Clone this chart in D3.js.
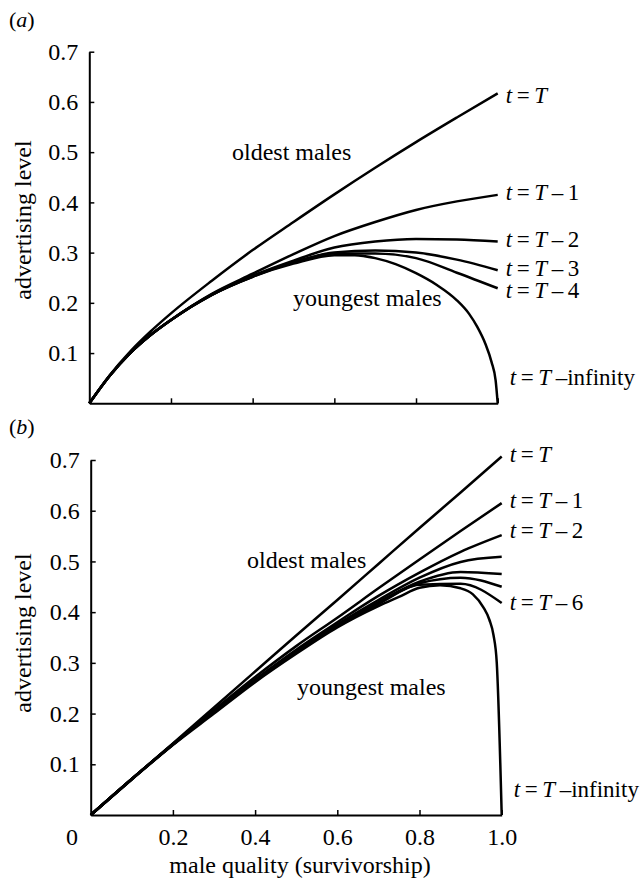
<!DOCTYPE html>
<html>
<head>
<meta charset="utf-8">
<script src="https://cdn.jsdelivr.net/npm/d3@7"></script>
<style>
    html, body { margin: 0; padding: 0; background: #fff; }
    svg text { font-family: "Liberation Serif", "Times New Roman", Times, serif; fill: #000; }
</style>
</head>
<body>
<svg id="chart" width="643" height="882" font-family="Liberation Serif, Times New Roman, serif"></svg>
<script>
// ---- panel (a): advertising level vs male quality ----
const qualityA = [0, 0.05, 0.1, 0.15, 0.2, 0.3, 0.4, 0.5, 0.6, 0.7, 0.8, 0.9, 1.0];
const advA_T  = [0, 0.056, 0.103, 0.143, 0.179, 0.244, 0.305, 0.361, 0.416, 0.469, 0.520, 0.569, 0.617];
const advA_T1 = [0, 0.055, 0.100, 0.136, 0.166, 0.218, 0.258, 0.297, 0.333, 0.361, 0.385, 0.402, 0.415];
const advA_T2 = [0, 0.055, 0.100, 0.136, 0.166, 0.217, 0.254, 0.284, 0.310, 0.322, 0.327, 0.326, 0.322];
const advA_T3 = [0, 0.055, 0.100, 0.136, 0.166, 0.216, 0.253, 0.281, 0.300, 0.304, 0.300, 0.286, 0.265];
const advA_T4 = [0, 0.055, 0.100, 0.136, 0.166, 0.216, 0.252, 0.280, 0.298, 0.298, 0.289, 0.260, 0.229];
const qualityA_inf = [0, 0.05, 0.1, 0.15, 0.2, 0.3, 0.4, 0.5, 0.6, 0.65, 0.7, 0.75, 0.8, 0.85, 0.9, 0.93, 0.95, 0.97, 0.985, 0.995, 1.0];
const advA_Tinf    = [0, 0.055, 0.100, 0.136, 0.166, 0.216, 0.252, 0.278, 0.295, 0.295, 0.289, 0.277, 0.259, 0.236, 0.205, 0.178, 0.152, 0.118, 0.082, 0.045, 0];

// ---- panel (b) ----
const qualityB = [0, 0.1, 0.2, 0.3, 0.4, 0.5, 0.6, 0.7, 0.8, 0.9, 1.0];
const advB_T  = [0, 0.071, 0.141, 0.212, 0.283, 0.354, 0.424, 0.495, 0.566, 0.636, 0.707];
const advB_T1 = [0, 0.071, 0.140, 0.207, 0.272, 0.333, 0.389, 0.447, 0.504, 0.560, 0.615];
const advB_T2 = [0, 0.071, 0.140, 0.205, 0.267, 0.326, 0.380, 0.432, 0.478, 0.519, 0.552];
const advB_T3 = [0, 0.071, 0.139, 0.204, 0.266, 0.323, 0.376, 0.424, 0.468, 0.499, 0.509];
const advB_T4 = [0, 0.071, 0.139, 0.204, 0.265, 0.322, 0.374, 0.420, 0.460, 0.479, 0.475];
const advB_T5 = [0, 0.071, 0.139, 0.203, 0.265, 0.321, 0.373, 0.418, 0.457, 0.468, 0.450];
const advB_T6 = [0, 0.071, 0.139, 0.203, 0.264, 0.320, 0.372, 0.416, 0.454, 0.456, 0.418];
const qualityB_inf = [0, 0.1, 0.2, 0.3, 0.4, 0.5, 0.6, 0.7, 0.75, 0.8, 0.85, 0.9, 0.93, 0.955, 0.97, 0.98, 0.988, 1.0];
const advB_Tinf    = [0, 0.070, 0.138, 0.200, 0.262, 0.318, 0.370, 0.412, 0.430, 0.448, 0.453, 0.447, 0.435, 0.410, 0.385, 0.355, 0.300, 0];

// axis ticks
const yTicks = [0.1, 0.2, 0.3, 0.4, 0.5, 0.6, 0.7];
const xTicks = [0.2, 0.4, 0.6, 0.8, 1.0];

// curve labels: suffix after "t = T", which series it belongs to, vertical nudge
const labelsA = [
    { suffix: '', series: advA_T, dy: 10 },
    { suffix: ' \u2013 1', series: advA_T1, dy: 5 },
    { suffix: ' \u2013 2', series: advA_T2, dy: 5 },
    { suffix: ' \u2013 3', series: advA_T3, dy: 6 },
    { suffix: ' \u2013 4', series: advA_T4, dy: 10 }
];
const labelsB = [
    { suffix: '', series: advB_T, dy: 6 },
    { suffix: ' \u2013 1', series: advB_T1, dy: 5 },
    { suffix: ' \u2013 2', series: advB_T2, dy: 3 },
    { suffix: ' \u2013 6', series: advB_T6, dy: 7 }
];

const FONT = 24;
const LABEL_FONT = 23;
const svg = d3.select('#chart');

// "t = T ..." with italic t and T
function curveLabel(g, x, y, suffix) {
    const t = g.append('text').attr('x', x).attr('y', y).attr('font-size', LABEL_FONT);
    t.append('tspan').attr('font-style', 'italic').text('t');
    t.append('tspan').text('\u2009=\u2009');
    t.append('tspan').attr('font-style', 'italic').text('T');
    if (suffix) t.append('tspan').text(suffix.replace(/ /g, '\u2009'));
    return t;
}

function drawPanel(cfg) {
    const x = d3.scaleLinear().domain([0, 1]).range(cfg.xRange);
    const y = d3.scaleLinear().domain([0, 0.7]).range(cfg.yRange);
    const g = svg.append('g');

    // y axis, ticks pointing inwards
    const yAxis = g.append('g')
        .attr('transform', `translate(${cfg.xRange[0]},0)`)
        .call(d3.axisLeft(y).tickValues(yTicks).tickSizeInner(-5).tickSizeOuter(0)
            .tickPadding(11).tickFormat(d3.format('.1f')));

    // x axis
    const xAxis = g.append('g')
        .attr('transform', `translate(0,${cfg.yRange[0]})`)
        .call(d3.axisBottom(x).tickValues(xTicks).tickSizeInner(-5).tickSizeOuter(0)
            .tickPadding(13).tickFormat(cfg.xLabels ? d3.format('.1f') : ''));

    [yAxis, xAxis].forEach(a => {
        a.attr('font-size', FONT).attr('font-family', null);
        a.select('.domain').attr('stroke-width', 2);
        a.selectAll('.tick line').attr('stroke-width', 1.5);
    });

    const line = d3.line()
        .x(d => x(d[0]))
        .y(d => y(d[1]))
        .curve(d3.curveMonotoneX);

    cfg.series.forEach(s => {
        g.append('path')
            .datum(d3.zip(s.q, s.v))
            .attr('fill', 'none')
            .attr('stroke', '#000')
            .attr('stroke-width', 2.5)
            .attr('stroke-linejoin', 'round')
            .attr('d', line);
    });

    // right-hand labels
    cfg.labels.forEach(l => {
        curveLabel(g, x(1) + 8, y(l.series[l.series.length - 1]) + l.dy, l.suffix);
    });
    curveLabel(g, x(1) + 12, cfg.infY, ' \u2013infinity');

    // in-plot annotations
    g.append('text').attr('x', cfg.oldest[0]).attr('y', cfg.oldest[1])
        .attr('font-size', FONT).text('oldest males');
    g.append('text').attr('x', cfg.youngest[0]).attr('y', cfg.youngest[1])
        .attr('font-size', FONT).text('youngest males');

    // y axis title
    g.append('text')
        .attr('transform', `translate(31,${cfg.titleY}) rotate(-90)`)
        .attr('text-anchor', 'middle')
        .attr('font-size', FONT)
        .text('advertising level');

    // panel letter
    const p = g.append('text').attr('x', 9).attr('y', cfg.letterY).attr('font-size', 22);
    p.append('tspan').text('(');
    p.append('tspan').attr('font-style', 'italic').text(cfg.letter);
    p.append('tspan').text(')');

    return { x, y };
}

drawPanel({
    xRange: [89.3, 497.7],
    yRange: [403.3, 51.7],
    xLabels: false,
    series: [
        { q: qualityA, v: advA_T },
        { q: qualityA, v: advA_T1 },
        { q: qualityA, v: advA_T2 },
        { q: qualityA, v: advA_T3 },
        { q: qualityA, v: advA_T4 },
        { q: qualityA_inf, v: advA_Tinf }
    ],
    labels: labelsA,
    infY: 385,
    oldest: [232, 160],
    youngest: [293, 306],
    titleY: 220,
    letter: 'a',
    letterY: 27
});

drawPanel({
    xRange: [90.7, 501.7],
    yRange: [815, 460],
    xLabels: true,
    series: [
        { q: qualityB, v: advB_T },
        { q: qualityB, v: advB_T1 },
        { q: qualityB, v: advB_T2 },
        { q: qualityB, v: advB_T3 },
        { q: qualityB, v: advB_T4 },
        { q: qualityB, v: advB_T5 },
        { q: qualityB, v: advB_T6 },
        { q: qualityB_inf, v: advB_Tinf }
    ],
    labels: labelsB,
    infY: 797,
    oldest: [247, 568],
    youngest: [297, 695],
    titleY: 633,
    letter: 'b',
    letterY: 434
});

// corner zero and x title
svg.append('text').attr('x', 72).attr('y', 845).attr('text-anchor', 'middle')
    .attr('font-size', FONT).text('0');
svg.append('text').attr('x', 300).attr('y', 873).attr('text-anchor', 'middle')
    .attr('font-size', FONT).text('male quality (survivorship)');
</script>
</body>
</html>
